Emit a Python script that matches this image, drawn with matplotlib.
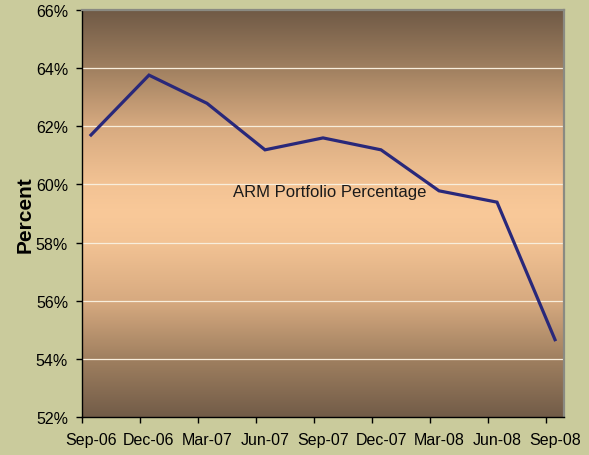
import numpy as np
import matplotlib
matplotlib.use('Agg')
import matplotlib.pyplot as plt
from matplotlib.colors import LinearSegmentedColormap
from matplotlib.ticker import FixedLocator, FuncFormatter

plt.rcParams['font.family'] = ['Liberation Sans', 'DejaVu Sans']

quarters = ['Sep-06', 'Dec-06', 'Mar-07', 'Jun-07', 'Sep-07',
            'Dec-07', 'Mar-08', 'Jun-08', 'Sep-08']
arm_pct = [61.70, 63.76, 62.79, 61.19, 61.60, 61.19, 59.78, 59.39, 54.66]
y_ticks = [52, 54, 56, 58, 60, 62, 64, 66]

bg = '#CACB9C'
fig = plt.figure(figsize=(5.89, 4.56), dpi=100, facecolor=bg)
ax = fig.add_axes([82 / 589, 38 / 456, 482 / 589, 407 / 456])
ax.set_facecolor(bg)

# vertical gradient: dark brown at top/bottom, peach in the middle
stops = [(0.0, (114, 92, 72)), (0.143, (160, 128, 96)), (0.285, (215, 170, 128)),
         (0.43, (243, 195, 148)), (0.5, (249, 201, 153)), (0.57, (243, 195, 148)),
         (0.715, (215, 170, 128)), (0.857, (160, 128, 96)), (1.0, (112, 90, 70))]
cmap = LinearSegmentedColormap.from_list(
    'brn', [(p, tuple(c / 255 for c in rgb)) for p, rgb in stops])
grad = np.linspace(0, 1, 256).reshape(-1, 1)
xlo, xhi = -0.155, len(quarters) - 1 + 0.155
ax.imshow(grad, cmap=cmap, aspect='auto', extent=[xlo, xhi, 66, 52],
          zorder=0, interpolation='bicubic')

for v in y_ticks[1:-1]:
    ax.axhline(v, color='#F8EEDC', lw=0.9, zorder=1)

x = np.arange(len(quarters))
ax.plot(x, arm_pct, color='#29287A', lw=2.3, zorder=3, solid_joinstyle='miter')

ax.set_xlim(xlo, xhi)
ax.set_ylim(52, 66)

ax.set_yticks(y_ticks)
ax.yaxis.set_major_formatter(FuncFormatter(lambda v, p: f'{v:.0f}%'))
ax.tick_params(axis='y', direction='out', length=4, width=1, pad=6,
               labelsize=11.5, colors='black')

ax.xaxis.set_major_locator(FixedLocator(x - 0.155))
ax.xaxis.set_minor_locator(FixedLocator(x))
ax.set_xticklabels([], minor=False)
ax.set_xticklabels(quarters, minor=True)
ax.tick_params(axis='x', which='major', direction='out', length=4, width=1)
ax.tick_params(axis='x', which='minor', length=0, pad=11, labelsize=11.5)

ax.set_ylabel('Percent', fontsize=15, fontweight='bold', labelpad=1)

for s in ['left', 'bottom']:
    ax.spines[s].set_color('black')
    ax.spines[s].set_linewidth(1)
for s in ['top', 'right']:
    ax.spines[s].set_color('#8A8A82')
    ax.spines[s].set_linewidth(1.6)

ax.text(4.12, 59.74, 'ARM Portfolio Percentage', ha='center', va='center',
        fontsize=12, color='#1A1A1A', zorder=4)

fig.savefig('out.png', dpi=100, facecolor=bg)
